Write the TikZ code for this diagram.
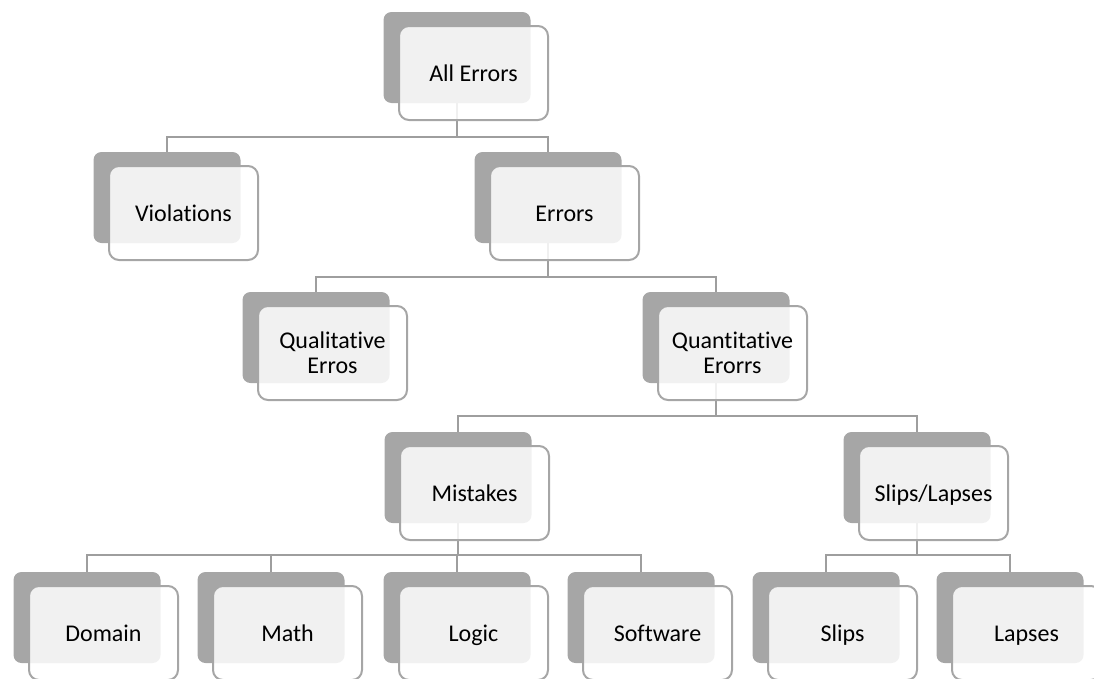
\documentclass[tikz,border=0pt]{standalone}
\usepackage{fontspec}
\setmainfont{Carlito}[Ligatures=NoCommon]
\definecolor{boxgray}{RGB}{166,166,166}
\definecolor{linegray}{RGB}{158,158,158}
\pgfdeclarelayer{bg}
\pgfsetlayers{bg,main}
\newcommand\treenode[4]{%
  \node[backbox] (#1D) at (#2,{#3+45.5}) {};
  \node[frontbox] (#1) at ({#2+16.5},{#3+61}) {};
  \node[boxtext] (#1T) at ({#2+16.5},{#3+64}) {#4};}
\begin{document}
\begin{tikzpicture}[x=0.75pt,y=-0.75pt,
  backbox/.style={fill=boxgray, draw=none, rounded corners=6pt,
    minimum width=110.25pt, minimum height=68.25pt, inner sep=0pt, outer sep=0pt},
  frontbox/.style={fill=white, fill opacity=0.85, draw=boxgray,
    line width=1.5pt, rounded corners=7.5pt, minimum width=111.75pt,
    minimum height=70.5pt, inner sep=0pt, outer sep=0pt},
  boxtext/.style={inner sep=0pt, align=center,
    font=\fontsize{18}{18.75}\selectfont, text=black},
  link/.style={draw=linegray, line width=1.5pt}]
\useasboundingbox (0,0) rectangle (1094,678);
\clip (0,0) rectangle (1094,678);
\treenode{all}{457}{12}{All Errors\strut}
\treenode{viol}{167}{152}{Violations\strut}
\treenode{err}{548}{152}{Errors\strut}
\treenode{qual}{316}{292}{Qualitative\strut\\Erros\strut}
\treenode{quant}{716}{292}{Quantitative\strut\\Erorrs\strut}
\treenode{mist}{458}{432}{Mistakes\strut}
\treenode{sl}{917}{432}{Slips/Lapses\strut}
\treenode{dom}{87}{572}{Domain\strut}
\treenode{math}{271}{572}{Math\strut}
\treenode{logic}{457}{572}{Logic\strut}
\treenode{soft}{641}{572}{Software\strut}
\treenode{slips}{826}{572}{Slips\strut}
\treenode{lapses}{1010}{572}{Lapses\strut}
\begin{pgfonlayer}{bg}
\draw[link] (violD.north) -- ++(0,-15) -| (allD.south);
\draw[link] (errD.north) -- ++(0,-15) -| (allD.south);
\draw[link] (qualD.north) -- ++(0,-15) -| (errD.south);
\draw[link] (quantD.north) -- ++(0,-15) -| (errD.south);
\draw[link] (mistD.north) -- ++(0,-16) -| (quantD.south);
\draw[link] (slD.north) -- ++(0,-16) -| (quantD.south);
\draw[link] (domD.north) -- ++(0,-17) -| (mistD.south);
\draw[link] (mathD.north) -- ++(0,-17) -| (mistD.south);
\draw[link] (logicD.north) -- ++(0,-17) -| (mistD.south);
\draw[link] (softD.north) -- ++(0,-17) -| (mistD.south);
\draw[link] (slipsD.north) -- ++(0,-17) -| (slD.south);
\draw[link] (lapsesD.north) -- ++(0,-17) -| (slD.south);
\end{pgfonlayer}
\end{tikzpicture}
\end{document}
